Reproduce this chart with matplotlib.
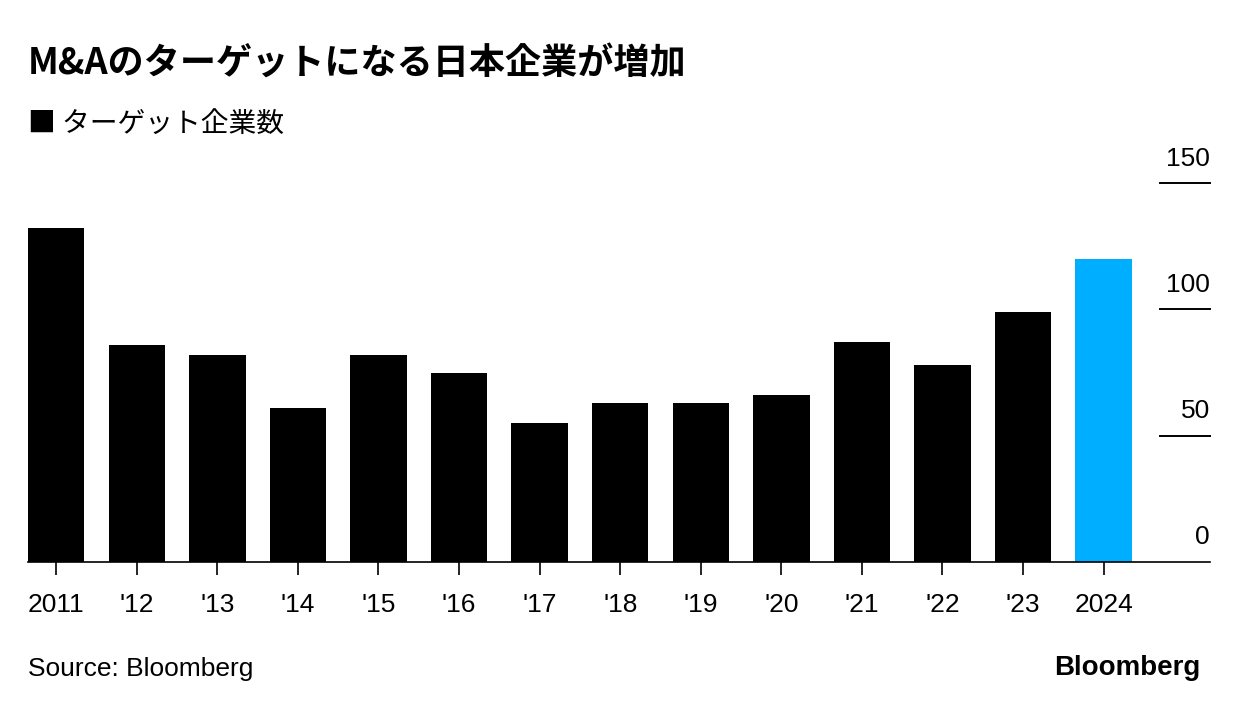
import matplotlib
matplotlib.use("Agg")
import matplotlib.pyplot as plt
import matplotlib.transforms as mtransforms

# data
years = ["2011", "'12", "'13", "'14", "'15", "'16", "'17", "'18", "'19", "'20",
         "'21", "'22", "'23", "2024"]
targets = [132, 86, 82, 61, 82, 75, 55, 63, 63, 66, 87, 78, 99, 120]
yticks = [0, 50, 100, 150]

jp = ["Noto Sans CJK JP", "DejaVu Sans"]
latin = ["Liberation Sans", "DejaVu Sans"]

fig = plt.figure(figsize=(12.4, 7.12), dpi=100)
ax = fig.add_axes([28 / 1240, 150 / 712, (1210 - 28) / 1240, (562 - 183) / 712])

colors = ["black"] * (len(years) - 1) + ["#00aeff"]
x = list(range(len(years)))
ax.bar(x, targets, width=0.7, color=colors)

ax.set_xlim(-0.35, 14.32)
ax.set_ylim(0, 150)
ax.set_xticks(x)
ax.set_xticklabels(years, fontfamily=latin, fontsize=19)
ax.tick_params(axis="x", length=9, width=1.2, pad=13, color="black")
ax.set_yticks([])

for s in ["top", "right", "left"]:
    ax.spines[s].set_visible(False)
ax.spines["bottom"].set_linewidth(1.2)

# short gridlines at the right with labels above them
trans = mtransforms.blended_transform_factory(ax.transAxes, ax.transData)
for t in yticks:
    if t > 0:
        ax.plot([(1160 - 28) / 1182, 1.0], [t, t], transform=trans, color="black",
                lw=1.4, clip_on=False)
    ax.annotate(str(t), xy=(1.0, t), xycoords=trans, xytext=(0, 9),
                textcoords="offset points", ha="right", va="bottom",
                fontfamily=latin, fontsize=19)

fig.text(28 / 1240, 1 - 64 / 712, "M&Aのターゲットになる日本企業が増加",
         fontfamily=jp, fontsize=26, fontweight="bold", va="center", ha="left")
fig.text(28 / 1240, 1 - 124 / 712, "■ ターゲット企業数",
         fontfamily=jp, fontsize=20, va="center", ha="left")
fig.text(28 / 1240, 1 - 669 / 712, "Source: Bloomberg",
         fontfamily=latin, fontsize=19, va="center", ha="left")
fig.text(1200 / 1240, 1 - 668 / 712, "Bloomberg",
         fontfamily=latin, fontsize=20, fontweight="bold", va="center", ha="right")

fig.savefig("out.png", dpi=100, facecolor="white")
